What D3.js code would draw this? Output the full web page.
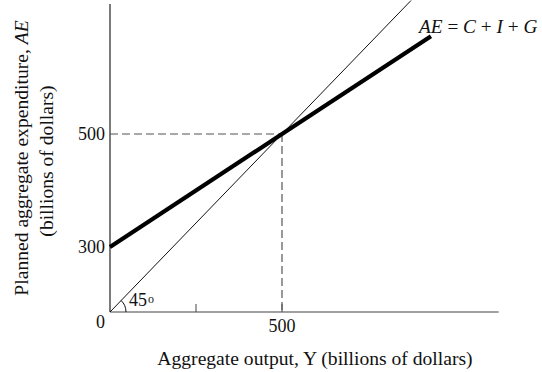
<!DOCTYPE html>
<html>
<head>
<meta charset="utf-8">
<script src="https://cdn.jsdelivr.net/npm/d3@7"></script>
<style>
  body { margin: 0; background: #fff; }
  svg { display: block; }
  text { font-family: "Liberation Serif", "DejaVu Serif", serif; fill: #111; }
</style>
</head>
<body>
<svg id="chart" width="542" height="372"></svg>
<script>
// ---- data ----
const yTickValues = [0, 300, 500];
const yTickLabels = ["0", "300", "500"];
const xTickValues = [250, 500];
const xTickLabels = ["", "500"];
const equilibrium = [500, 500];
const aeIntercept = 300;          // autonomous spending
const aeSlope = 0.4;              // MPC
const aeLineEndX = 933;           // where AE line ends
const fortyFiveEndX = 875;        // where the 45° line ends
const xMax = 1130;                // end of x axis
const yMax = 730;                 // top of y axis

// ---- scales (schematic: piecewise y) ----
const x = d3.scaleLinear().domain([0, 500]).range([110, 282]);
const y = d3.scaleLinear().domain([0, 300, 500]).range([312, 247, 134]);

const svg = d3.select("#chart");

// axes
svg.append("line").attr("x1", x(0)).attr("x2", x(0)).attr("y1", y(0)).attr("y2", y(yMax))
  .attr("stroke", "#222").attr("stroke-width", 1.2);
svg.append("line").attr("x1", x(0)).attr("x2", x(xMax)).attr("y1", y(0)).attr("y2", y(0))
  .attr("stroke", "#444").attr("stroke-width", 1.2);

// x ticks (small upward ticks)
svg.selectAll(".xt").data(xTickValues).enter().append("line")
  .attr("x1", d => x(d)).attr("x2", d => x(d)).attr("y1", y(0)).attr("y2", y(0) - 8)
  .attr("stroke", "#444").attr("stroke-width", 1);
svg.selectAll(".xl").data(xTickValues).enter().append("text")
  .attr("x", d => x(d)).attr("y", y(0) + 20)
  .attr("text-anchor", "middle").attr("font-size", 18)
  .text((d, i) => xTickLabels[i]);

// y tick labels
svg.selectAll(".yl").data(yTickValues).enter().append("text")
  .attr("x", x(0) - 5)
  .attr("y", d => d === 0 ? y(d) + 16 : y(d) + 6)
  .attr("text-anchor", "end").attr("font-size", 18)
  .text((d, i) => yTickLabels[i]);

// dashed guides
const dash = "8,4";
svg.append("line").attr("x1", x(0)).attr("x2", x(equilibrium[0]))
  .attr("y1", y(equilibrium[1])).attr("y2", y(equilibrium[1]))
  .attr("stroke", "#555").attr("stroke-width", 1.2).attr("stroke-dasharray", dash);
svg.append("line").attr("x1", x(equilibrium[0])).attr("x2", x(equilibrium[0]))
  .attr("y1", y(equilibrium[1])).attr("y2", y(0))
  .attr("stroke", "#555").attr("stroke-width", 1.2).attr("stroke-dasharray", dash);

// 45-degree line: through origin and equilibrium, extended
const p0 = [x(0), y(0)], p1 = [x(equilibrium[0]), y(equilibrium[1])];
const t = (x(fortyFiveEndX) - p0[0]) / (p1[0] - p0[0]);
const p2 = [p0[0] + t * (p1[0] - p0[0]), p0[1] + t * (p1[1] - p0[1])];
svg.append("path").attr("d", d3.line()([p0, p2]))
  .attr("fill", "none").attr("stroke", "#111").attr("stroke-width", 1);

// AE line
const aeData = [0, equilibrium[0], aeLineEndX].map(v => [v, aeIntercept + aeSlope * v]);
svg.append("path").datum(aeData)
  .attr("d", d3.line().x(d => x(d[0])).y(d => y(d[1])))
  .attr("fill", "none").attr("stroke", "#000").attr("stroke-width", 4.2);

// 45° arc
const r = 16;
const ang = Math.atan2(p0[1] - p1[1], p1[0] - p0[0]);
svg.append("path")
  .attr("d", `M${p0[0] + r},${p0[1]} A${r},${r} 0 0 0 ${p0[0] + r * Math.cos(ang)},${p0[1] - r * Math.sin(ang)}`)
  .attr("fill", "none").attr("stroke", "#111").attr("stroke-width", 1);
const a45 = svg.append("text").attr("x", p0[0] + 19).attr("y", p0[1] - 6).attr("font-size", 18);
a45.append("tspan").text("45");
a45.append("tspan").attr("font-size", 12).attr("dy", -3).attr("dx", 1).text("o");

// AE label
const aeLab = svg.append("text").attr("x", 419).attr("y", 33).attr("font-size", 19.3);
aeLab.append("tspan").attr("font-style", "italic").text("AE");
aeLab.append("tspan").text(" = ");
aeLab.append("tspan").attr("font-style", "italic").text("C");
aeLab.append("tspan").text(" + ");
aeLab.append("tspan").attr("font-style", "italic").text("I");
aeLab.append("tspan").text(" + ");
aeLab.append("tspan").attr("font-style", "italic").text("G");

// axis titles
svg.append("text").attr("x", 315).attr("y", 365).attr("text-anchor", "middle")
  .attr("font-size", 19.6).text("Aggregate output, Y (billions of dollars)");

const yt = svg.append("text").attr("transform", "translate(28,158) rotate(-90)")
  .attr("text-anchor", "middle").attr("font-size", 19.6);
yt.append("tspan").text("Planned aggregate expenditure, ");
yt.append("tspan").attr("font-style", "italic").text("AE");
svg.append("text").attr("transform", "translate(53,161) rotate(-90)")
  .attr("text-anchor", "middle").attr("font-size", 19.6).text("(billions of dollars)");
</script>
</body>
</html>
